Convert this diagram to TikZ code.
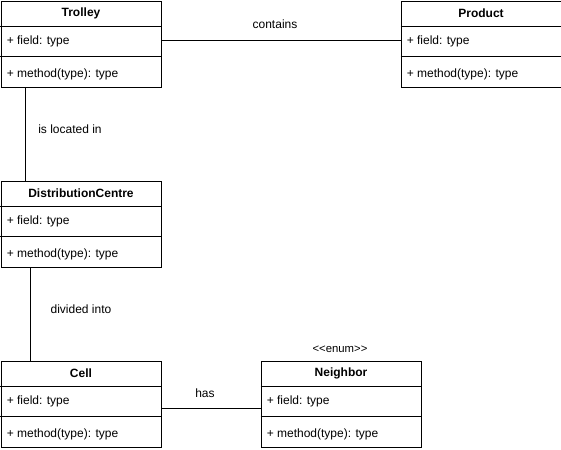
\documentclass[tikz,border=0pt]{standalone}
\usepackage{fontspec}
\setmainfont{Liberation Sans}
\begin{document}
\begin{tikzpicture}[x=0.75pt,y=-0.75pt,
  classbox/.style={draw,line width=0.75pt,minimum width=120pt,minimum height=64.5pt,anchor=north west,inner sep=0pt},
  title/.style={font=\fontsize{9}{11}\selectfont\bfseries,inner sep=0pt},
  member/.style={font=\fontsize{9}{11}\selectfont,anchor=west,inner sep=0pt},
  lbl/.style={font=\fontsize{9}{11}\selectfont,inner sep=0pt},
  conn/.style={line width=0.75pt}]
\useasboundingbox (0,0) rectangle (561,450);
\newcommand\umlbox[4]{%
  \node[classbox] (#1) at (#2,#3) {};
  \draw[line width=0.75pt] ([yshift=-19.5pt]#1.north west) -- ([yshift=-19.5pt]#1.north east);
  \draw[line width=0.75pt] ([yshift=-42pt]#1.north west) -- ([yshift=-42pt]#1.north east);
  \node[title] (#1-t) at ([yshift=-9.75pt]#1.north) {#4};
  \node[member] (#1-f) at ([xshift=4.5pt,yshift=-30.5pt]#1.north west) {+ field: type};
  \node[member] (#1-m) at ([xshift=4.5pt,yshift=-55.5pt]#1.north west) {+ method(type): type};
}
\umlbox{trolley}{0.5}{0.5}{Trolley}
\umlbox{product}{400.5}{0.5}{Product}
\umlbox{dc}{0.5}{180.5}{DistributionCentre}
\umlbox{cell}{0.5}{360.5}{Cell}
\umlbox{neighbor}{260.5}{360.5}{Neighbor}
\node[lbl] (enum) at (340,349) {\fontsize{8.5}{10}\selectfont <{}<enum>{}>};
\draw[conn] (trolley.east |- 0,40) -- (product.west |- 0,40);
\node[lbl] (l1) at (275,24) {contains};
\draw[conn] (trolley.south -| 25,0) -- (dc.north -| 25,0);
\node[lbl] (l2) at (70,129) {is located in};
\draw[conn] (dc.south -| 30,0) -- (cell.north -| 30,0);
\node[lbl] (l3) at (81,309) {divided into};
\draw[conn] (cell.east |- 0,408) -- (neighbor.west |- 0,408);
\node[lbl] (l4) at (205,393) {has};
\end{tikzpicture}
\end{document}
